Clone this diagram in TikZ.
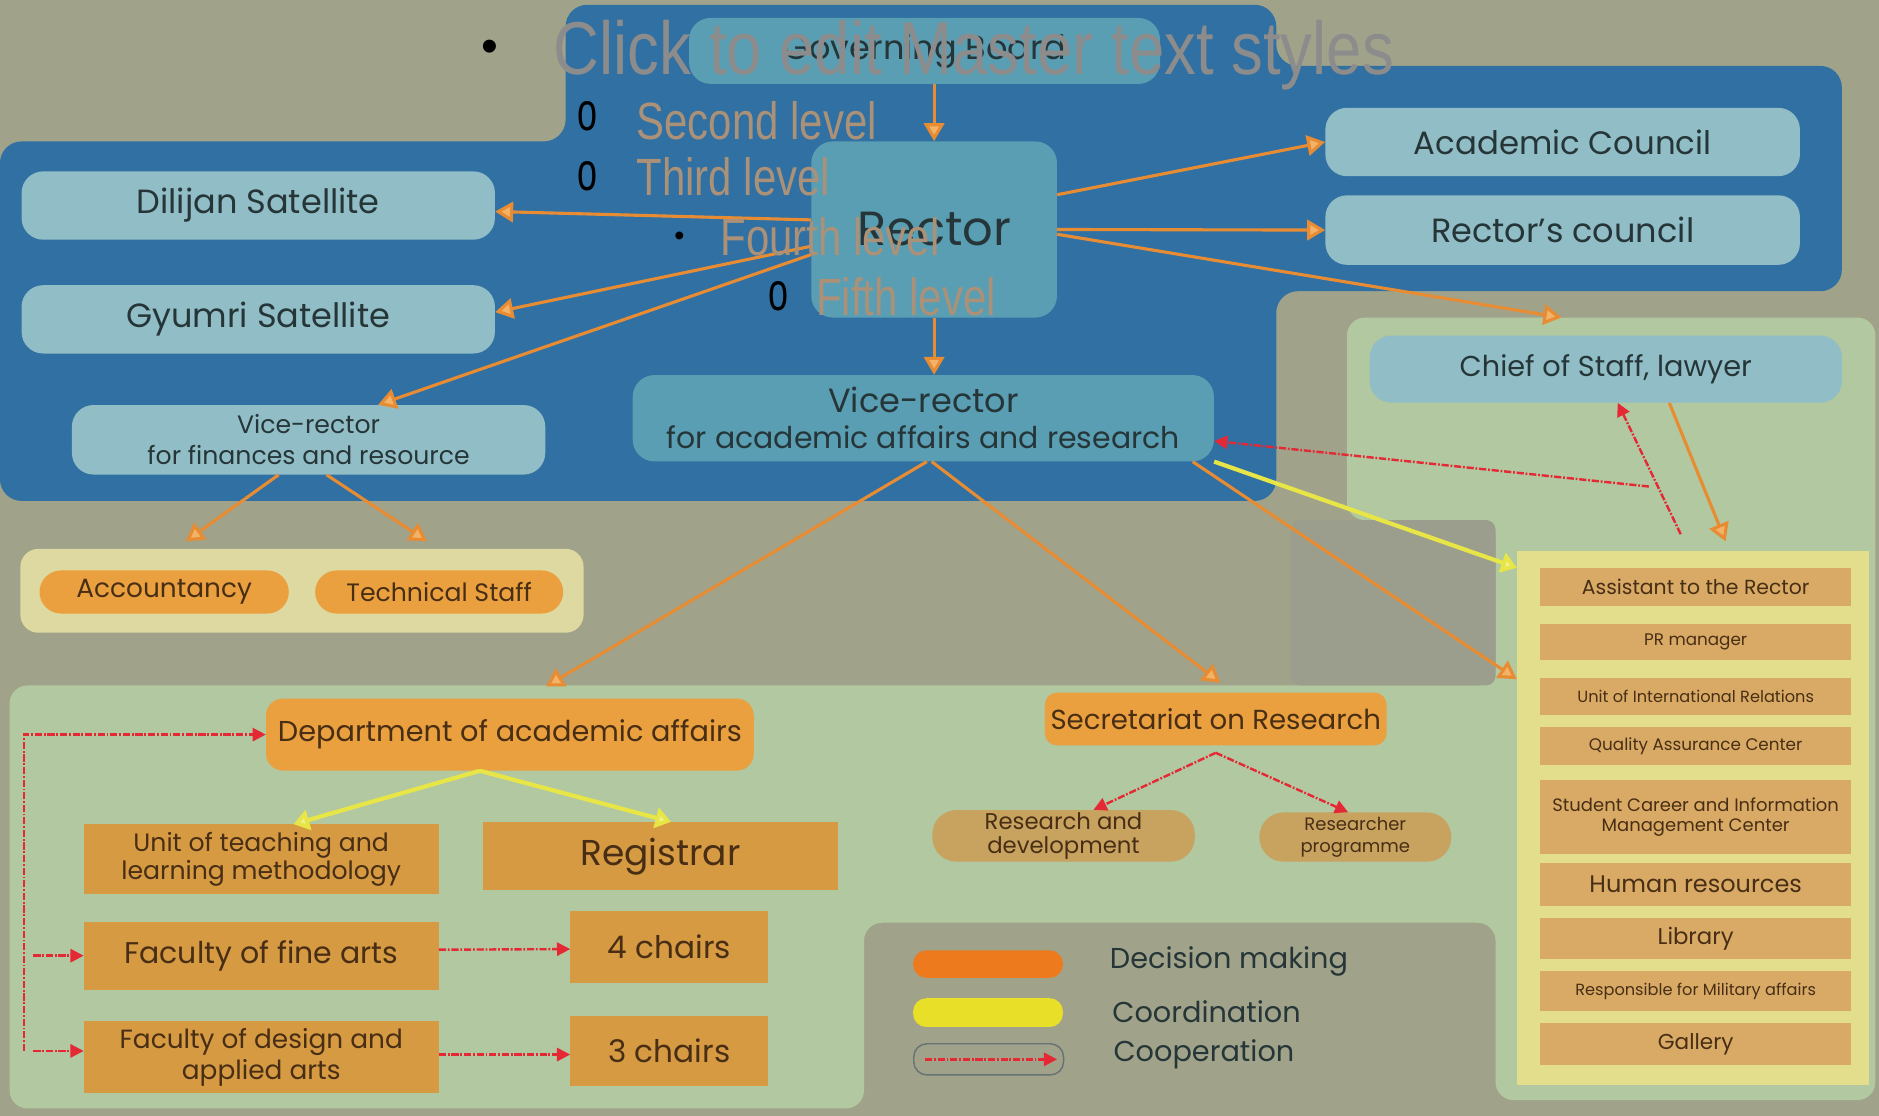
\documentclass[tikz,border=0pt]{standalone}
\usepackage{fontspec}
\setmainfont{Poppins}
\newfontfamily\masterfont{Liberation Sans}
\usetikzlibrary{arrows.meta}

\definecolor{bgolive}{RGB}{160,163,138}
\definecolor{panelblue}{RGB}{48,112,162}
\definecolor{boxlight}{RGB}{145,190,198}
\definecolor{boxmid}{RGB}{90,158,180}
\definecolor{panelgreen}{RGB}{177,200,160}
\definecolor{blockgray}{RGB}{155,158,140}
\definecolor{panelcream}{RGB}{222,217,160}
\definecolor{panelyellow}{RGB}{226,222,140}
\definecolor{boxlist}{RGB}{216,170,102}
\definecolor{boxorange}{RGB}{234,160,62}
\definecolor{boxtan}{RGB}{214,154,66}
\definecolor{boxpill}{RGB}{200,163,96}
\definecolor{decision}{RGB}{232,140,52}
\definecolor{decisionlight}{RGB}{242,178,104}
\definecolor{coordyellow}{RGB}{232,230,70}
\definecolor{coopred}{RGB}{228,40,52}
\definecolor{textdark}{RGB}{38,54,56}
\definecolor{textbrown}{RGB}{72,46,20}
\definecolor{legorange}{RGB}{238,122,30}
\definecolor{legyellow}{RGB}{232,224,40}
\definecolor{mastergray}{RGB}{140,140,140}
\definecolor{levelgray}{RGB}{170,145,120}

\tikzstyle{bluebox} = [rectangle, rounded corners=18pt, fill=boxlight, text=textdark, inner sep=0pt, align=center, font=\fontsize{28}{32}\selectfont]
\tikzstyle{topbox} = [bluebox, fill=boxmid]
\tikzstyle{orangebox} = [rectangle, rounded corners=14pt, fill=boxorange, text=textbrown, inner sep=0pt, align=center, font=\fontsize{23}{26}\selectfont]
\tikzstyle{tanbox} = [rectangle, fill=boxtan, text=textbrown, inner sep=0pt, align=center, font=\fontsize{23}{25}\selectfont]
\tikzstyle{pillbox} = [rectangle, rounded corners=20pt, fill=boxpill, text=textbrown, inner sep=0pt, align=center]
\tikzstyle{listbox} = [rectangle, fill=boxlist, minimum width=260pt, text=textbrown, inner sep=0pt, align=center]
\tikzstyle{legendpill} = [rectangle, rounded corners=11pt, minimum width=125pt, minimum height=24pt, inner sep=0pt]
\tikzstyle{legendtext} = [anchor=west, text=textdark, inner sep=0pt, font=\fontsize{24}{28}\selectfont]
\tikzstyle{master} = [anchor=base west, inner sep=0pt, text=levelgray, font=\masterfont\fontsize{35}{40}\selectfont]
\tikzstyle{arrow} = [line width=2.6pt, draw=decision, -{Triangle[length=15pt,width=17pt,fill=decisionlight]}]
\tikzstyle{coordarrow} = [line width=3.5pt, draw=coordyellow, -{Triangle[length=13pt,width=17pt,fill=coordyellow!60!white]}]
\tikzstyle{cooparrow} = [line width=2pt, draw=coopred, dash pattern=on 6pt off 1.5pt on 1.5pt off 1.5pt, -{Triangle[length=11pt,width=11pt,fill=coopred]}]

\begin{document}
\begin{tikzpicture}[x=1pt, y=-1pt]
        \useasboundingbox (0,0) rectangle (1568,931);
        \fill [bgolive] (0,0) rectangle (1568,931);

        % panels
        \fill [panelblue, rounded corners=18pt] (0,118) -- (472,118) -- (472,4) -- (1065,4) -- (1065,55) -- (1537,55) -- (1537,243) -- (1065,243) -- (1065,418) -- (0,418) -- cycle;
        \fill [panelgreen, rounded corners=15pt] (8,572) -- (1248,572) -- (1248,434) -- (1124,434) -- (1124,265) -- (1565,265) -- (1565,918) -- (1248,918) -- (1248,770) -- (721,770) -- (721,925) -- (8,925) -- cycle;
        \fill [blockgray, rounded corners=8pt] (1077,434) rectangle (1248,572);
        \node (accpanel) [rectangle, rounded corners=15pt, fill=panelcream, minimum width=470pt, minimum height=70pt] at (252,493) {};
        \node (listpanel) [rectangle, fill=panelyellow, minimum width=294pt, minimum height=445pt] at (1413,682.5) {};
        \coordinate (stafftop) at (1303,265);
        \coordinate (coopstart) at (1376,406);
        \coordinate (loopx) at (20,613);

        % top level
        \node (gov) [topbox, minimum width=393pt, minimum height=55pt] at (771.5,42.5) {Governing Board};
        \node (rector) [topbox, minimum width=205pt, minimum height=147pt, font=\fontsize{40}{44}\selectfont] at (779.5,191.5) {Rector};
        \node (acad) [bluebox, minimum width=396pt, minimum height=57pt, font=\fontsize{27}{30}\selectfont] at (1304,118.5) {Academic Council};
        \node (rcouncil) [bluebox, minimum width=396pt, minimum height=58pt] at (1304,192) {Rector's council};
        \node (dilijan) [bluebox, minimum width=395pt, minimum height=57pt] at (215.5,171.5) {Dilijan Satellite};
        \node (gyumri) [bluebox, minimum width=395pt, minimum height=57pt] at (215.5,266.5) {Gyumri Satellite};
        \node (vrfin) [bluebox, minimum width=395pt, minimum height=58pt, font=\fontsize{21}{26}\selectfont] at (257.5,367) {Vice-rector\\for finances and resource};
        \node (vracad) [topbox, minimum width=485pt, minimum height=72pt, font=\fontsize{25}{30}\selectfont] at (770.5,349) {{\fontsize{28}{30}\selectfont Vice-rector}\\for academic affairs and research};
        \node (chief) [bluebox, minimum width=394pt, minimum height=56pt, font=\fontsize{24}{28}\selectfont] at (1340,308) {Chief of Staff, lawyer};

        % finances
        \node (acc) [orangebox, rounded corners=18pt, minimum width=208pt, minimum height=36pt, font=\fontsize{22}{26}\selectfont] at (137,494) {Accountancy};
        \node (tech) [orangebox, rounded corners=18pt, minimum width=207pt, minimum height=36pt, font=\fontsize{21}{26}\selectfont] at (366.5,494) {Technical Staff};

        % academic affairs
        \node (dept) [orangebox, minimum width=407pt, minimum height=60pt, font=\fontsize{24}{28}\selectfont] at (425.5,613) {Department of academic affairs};
        \node (unitteach) [tanbox, minimum width=296pt, minimum height=58pt, font=\fontsize{21}{24}\selectfont] at (218,717) {Unit of teaching and\\learning methodology};
        \node (registrar) [tanbox, minimum width=296pt, minimum height=57pt, font=\fontsize{30}{34}\selectfont] at (551,714.5) {Registrar};
        \node (fine) [tanbox, minimum width=296pt, minimum height=57pt, font=\fontsize{25}{28}\selectfont] at (218,797.5) {Faculty of fine arts};
        \node (design) [tanbox, minimum width=296pt, minimum height=60pt, font=\fontsize{22}{26}\selectfont] at (218,882) {Faculty of design and\\applied arts};
        \node (chairs4) [tanbox, minimum width=165pt, minimum height=60pt, font=\fontsize{26}{30}\selectfont] at (558.5,790) {4 chairs};
        \node (chairs3) [tanbox, minimum width=165pt, minimum height=58pt, font=\fontsize{26}{30}\selectfont] at (558.5,877) {3 chairs};

        % research
        \node (secr) [orangebox, rounded corners=10pt, minimum width=285pt, minimum height=44pt] at (1014.5,600) {Secretariat on Research};
        \node (rnd) [pillbox, minimum width=219pt, minimum height=43pt, font=\fontsize{19}{20}\selectfont] at (887.5,697.5) {Research and\\development};
        \node (rprog) [pillbox, minimum width=160pt, minimum height=41pt, font=\fontsize{15}{18}\selectfont] at (1131,698.5) {Researcher\\programme};

        % staff units
        \node (assist) [listbox, minimum height=32pt, font=\fontsize{17}{20}\selectfont] at (1415,490) {Assistant to the Rector};
        \node (prman) [listbox, minimum height=30pt, font=\fontsize{14}{17}\selectfont] at (1415,536) {PR manager};
        \node (intrel) [listbox, minimum height=31pt, font=\fontsize{13.5}{16}\selectfont] at (1415,581.5) {Unit of International Relations};
        \node (quality) [listbox, minimum height=31pt, font=\fontsize{14}{17}\selectfont] at (1415,622.5) {Quality Assurance Center};
        \node (career) [listbox, minimum height=62pt, font=\fontsize{15}{17}\selectfont] at (1415,682) {Student Career and Information\\Management Center};
        \node (hr) [listbox, minimum height=36pt, font=\fontsize{20}{24}\selectfont] at (1415,738) {Human resources};
        \node (library) [listbox, minimum height=34pt, font=\fontsize{19}{22}\selectfont] at (1415,783) {Library};
        \node (military) [listbox, minimum height=34pt, font=\fontsize{13.5}{16}\selectfont] at (1415,827) {Responsible for Military affairs};
        \node (gallery) [listbox, minimum height=35pt, font=\fontsize{18}{22}\selectfont] at (1415,871.5) {Gallery};

        % legend
        \node (legdecision) [legendpill, fill=legorange, minimum height=23pt] at (824.5,804.5) {};
        \node (legcoord) [legendpill, fill=legyellow] at (824.5,845) {};
        \node (legcoop) [legendpill, draw=textdark!70, line width=1.2pt, minimum height=26pt] at (825,884) {};
        \node (legdecisiontext) [legendtext] at (926,802) {Decision making};
        \node (legcoordtext) [legendtext] at (928,844) {Coordination};
        \node (legcooptext) [legendtext] at (929,880) {Cooperation};

        % decision making
        \draw [arrow] (gov.south -| rector.north) -- (rector.north);
        \draw [arrow] ([yshift=29pt]rector.east) -- (acad.west);
        \draw [arrow] (rector.east) -- (rcouncil.west);
        \draw [arrow] ([yshift=-4pt]rector.east) -- (stafftop);
        \draw [arrow] ([yshift=8pt]rector.west) -- ([yshift=-5pt]dilijan.east);
        \draw [arrow] ([yshift=-14pt]rector.west) -- ([yshift=6pt]gyumri.east);
        \draw [arrow] ([yshift=-21pt]rector.west) -- ([xshift=58pt]vrfin.north);
        \draw [arrow] (rector.south) -- (rector.south |- vracad.north);
        \draw [arrow] ([xshift=-25pt]vrfin.south) -- ([xshift=18pt,yshift=24pt]acc.north);
        \draw [arrow] ([xshift=15pt]vrfin.south) -- ([xshift=-10pt,yshift=24pt]tech.north);
        \draw [arrow] ([xshift=3pt]vracad.south) -- ([xshift=30pt,yshift=10pt]dept.north);
        \draw [arrow] ([xshift=7pt]vracad.south) -- ([xshift=4pt,yshift=8pt]secr.north);
        \draw [arrow] ([xshift=-18pt]vracad.south east) -- ([yshift=-107pt]listpanel.north west);
        \draw [arrow] ([xshift=53pt]chief.south) -- ([xshift=27pt,yshift=8pt]listpanel.north);

        % coordination
        \draw [coordarrow] (vracad.south east) -- ([yshift=-14pt]listpanel.north west);
        \draw [coordarrow] ([xshift=-25pt]dept.south) -- ([xshift=27pt]unitteach.north);
        \draw [coordarrow] ([xshift=-25pt]dept.south) -- ([xshift=9pt]registrar.north);

        % cooperation
        \draw [cooparrow] (coopstart) -- ([yshift=-19pt]vracad.east);
        \draw [cooparrow, {Triangle[length=11pt,width=11pt,fill=coopred]}-] ([xshift=10pt]chief.south) -- ([xshift=-10pt,yshift=13pt]listpanel.north);
        \draw [cooparrow] ([yshift=-6pt]secr.south) -- ([xshift=25pt]rnd.north);
        \draw [cooparrow] ([yshift=-6pt]secr.south) -- ([xshift=-6pt]rprog.north);
        \draw [cooparrow] ([yshift=5pt]design.west -| loopx) |- (dept.west);
        \draw [cooparrow] ([xshift=-42pt]fine.west) -- (fine.west);
        \draw [cooparrow] ([xshift=-42pt,yshift=5pt]design.west) -- ([yshift=5pt]design.west);
        \draw [cooparrow] ([yshift=5pt]fine.east) -- ([yshift=-2pt]chairs4.west);
        \draw [cooparrow] ([yshift=2pt]design.east) -- ([yshift=-3pt]chairs3.west);
        \draw [cooparrow] ([xshift=10pt]legcoop.west) -- ([xshift=-6pt]legcoop.east);

        % master text placeholder
        \node (bullet1) [anchor=base, inner sep=0pt, font=\masterfont\fontsize{40}{40}\selectfont] at (409,52) {•};
        \node (level1) [master, text=mastergray, font=\masterfont\fontsize{53}{60}\selectfont] at (462,62) {\scalebox{1}[1.18]{Click to edit Master text styles}};
        \node (bullet2) [anchor=base, inner sep=0pt, font=\masterfont\fontsize{30}{30}\selectfont] at (490,109) {\scalebox{1}[1.5]{o}};
        \node (level2) [master] at (531,116) {\scalebox{1}[1.25]{Second level}};
        \node (bullet3) [anchor=base, inner sep=0pt, font=\masterfont\fontsize{30}{30}\selectfont] at (490,159) {\scalebox{1}[1.5]{o}};
        \node (level3) [master] at (531,163) {\scalebox{1}[1.25]{Third level}};
        \node (bullet4) [anchor=base, inner sep=0pt, font=\masterfont\fontsize{24}{24}\selectfont] at (567,205) {•};
        \node (level4) [master] at (601,213) {\scalebox{1}[1.25]{Fourth level}};
        \node (bullet5) [anchor=base, inner sep=0pt, font=\masterfont\fontsize{30}{30}\selectfont] at (650,259) {\scalebox{1}[1.5]{o}};
        \node (level5) [master] at (681,263) {\scalebox{1}[1.25]{Fifth level}};
\end{tikzpicture}
\end{document}
